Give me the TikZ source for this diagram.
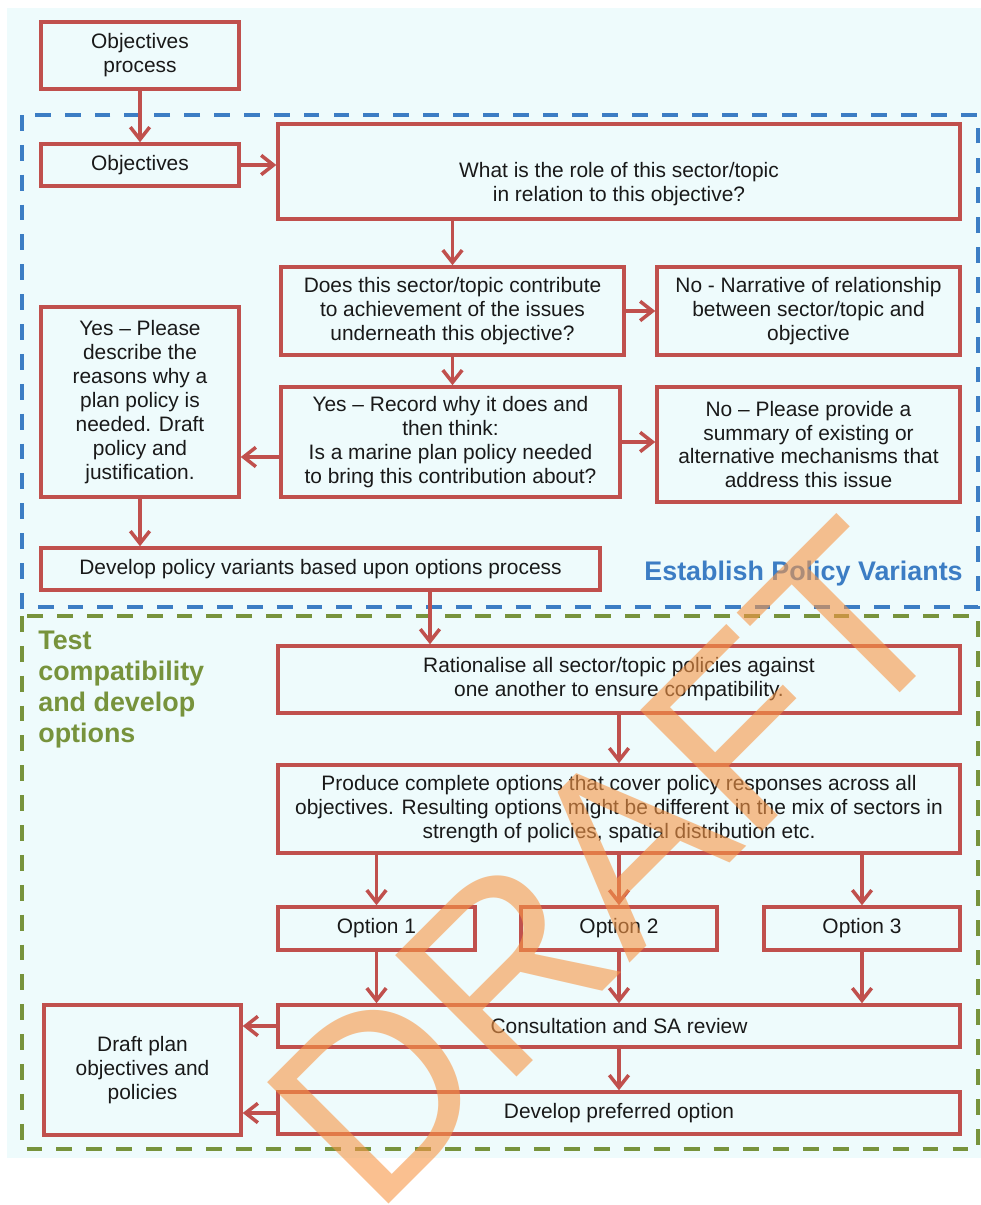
\documentclass[tikz,border=0pt]{standalone}
\usepackage{fontspec}
\setmainfont{Liberation Sans}
\usetikzlibrary{arrows.meta}
\definecolor{bgcyan}{RGB}{238,251,252}
\definecolor{boxred}{RGB}{192,80,77}
\definecolor{zoneblue}{RGB}{60,125,196}
\definecolor{zonegreen}{RGB}{119,147,60}
\definecolor{draftorange}{RGB}{247,150,70}
\definecolor{ink}{RGB}{25,25,25}

\begin{document}
\begin{tikzpicture}[x=0.02cm, y=-0.02cm,
    box/.style={draw=boxred, line width=2pt, fill=bgcyan, inner sep=0pt, align=center, text=ink, font=\fontsize{11.9}{13.6}\selectfont},
    arr/.style={draw=boxred, line width=2pt, -{Straight Barb[length=7pt,width=11pt]}},
    zone/.style={line width=2.3pt, dash pattern=on 9pt off 8pt}]
    \useasboundingbox (0,0) rectangle (981,1205);
    \fill[white] (0,0) rectangle (981,1205);
    \fill[bgcyan] (7,8) rectangle (981,1158);
    \draw[zone, zoneblue] (22,115) rectangle (978,607);
    \draw[zone, zonegreen] (22,616) rectangle (978,1149);

    \node[box, minimum width=3.96cm, minimum height=1.34cm] (objproc) at (140,55.5) {Objectives\\process};
    \node[box, minimum width=3.96cm, minimum height=0.84cm] (obj) at (140,165) {Objectives};
    \node[box, minimum width=13.64cm, minimum height=1.9cm] (role) at (619,171.5) {\rule{0pt}{23.4pt}What is the role of this sector/topic\\in relation to this objective?};
    \node[box, minimum width=6.86cm, minimum height=1.76cm] (contrib) at (452.5,311) {Does this sector/topic contribute\\to achievement of the issues\\underneath this objective?};
    \node[box, minimum width=6.06cm, minimum height=1.76cm] (narrative) at (808.5,311) {No - Narrative of relationship\\between sector/topic and\\objective};
    \node[box, minimum width=3.96cm, minimum height=3.8cm] (yesdraft) at (140,402) {Yes -- Please\\describe the\\reasons why a\\plan policy is\\needed. Draft\\policy and\\justification.};
    \node[box, minimum width=6.78cm, minimum height=2.2cm] (record) at (450.5,442) {Yes -- Record why it does and\\then think:\\Is a marine plan policy needed\\to bring this contribution about?};
    \node[box, minimum width=6.06cm, minimum height=2.3cm] (summary) at (808.5,444.5) {No -- Please provide a\\summary of existing or\\alternative mechanisms that\\address this issue};
    \node[box, minimum width=11.18cm, minimum height=0.84cm] (variants) at (320.5,569) {Develop policy variants based upon options process};
    \node[box, minimum width=13.64cm, minimum height=1.34cm] (rationalise) at (619,679.5) {Rationalise all sector/topic policies against\\one another to ensure compatibility.};
    \node[box, minimum width=13.64cm, minimum height=1.76cm] (produce) at (619,809) {Produce complete options that cover policy responses across all\\objectives. Resulting options might be different in the mix of sectors in\\strength of policies, spatial distribution etc.};
    \node[box, minimum width=3.94cm, minimum height=0.86cm] (opt1) at (376.5,928.5) {Option 1};
    \node[box, minimum width=3.92cm, minimum height=0.86cm] (opt2) at (619,928.5) {Option 2};
    \node[box, minimum width=3.92cm, minimum height=0.86cm] (opt3) at (862,928.5) {Option 3};
    \node[box, minimum width=13.64cm, minimum height=0.84cm] (consult) at (619,1026) {Consultation and SA review};
    \node[box, minimum width=13.64cm, minimum height=0.84cm] (preferred) at (619,1113) {Develop preferred option};
    \node[box, minimum width=3.94cm, minimum height=2.6cm] (draftplan) at (142.5,1070) {Draft plan\\objectives and\\policies};

    \coordinate (recout) at ([yshift=-0.3cm]record.west);
    \coordinate (varout) at ([xshift=2.19cm]variants.south);
    \draw[arr] (objproc) -- (obj);
    \draw[arr] (obj.east) -- (obj.east -| role.west);
    \draw[arr] (role.south -| contrib.north) -- (contrib.north);
    \draw[arr] (contrib) -- (narrative);
    \draw[arr] (contrib.south) -- (contrib.south |- record.north);
    \draw[arr] (record.east) -- (record.east -| summary.west);
    \draw[arr] (recout) -- (recout -| yesdraft.east);
    \draw[arr] (yesdraft.south) -- (yesdraft.south |- variants.north);
    \draw[arr] (varout) -- (varout |- rationalise.north);
    \draw[arr] (rationalise) -- (produce);
    \foreach \opt in {opt1, opt2, opt3} {
        \draw[arr] (\opt.north |- produce.south) -- (\opt.north);
        \draw[arr] (\opt.south) -- (\opt.south |- consult.north);
    }
    \draw[arr] (consult) -- (preferred);
    \draw[arr] (consult.west) -- (consult.west -| draftplan.east);
    \draw[arr] (preferred.west) -- (preferred.west -| draftplan.east);

    \node[anchor=base east, inner sep=0pt, text=zoneblue, font=\fontsize{15.3}{18}\selectfont\bfseries] (establish) at (963,580) {Establish Policy Variants};
    \node[anchor=north west, inner sep=0pt, align=left, text=zonegreen, font=\fontsize{15.3}{17.6}\selectfont\bfseries] (testlabel) at (38,631) {Test\\compatibility\\and develop\\options};

    \node[rotate=45, inner sep=0pt, text=draftorange, text opacity=0.6, font=\fontsize{142}{142}\selectfont] (draft) at (608,864) {DRAFT};
\end{tikzpicture}
\end{document}
